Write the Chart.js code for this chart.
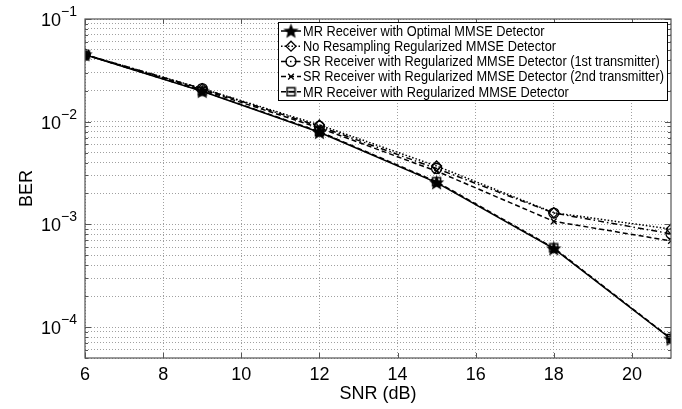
<!DOCTYPE html>
<html>
<head>
<meta charset="utf-8">
<script src="https://cdn.jsdelivr.net/npm/chart.js@4/dist/chart.umd.min.js"></script>
<style>
  html, body { margin: 0; padding: 0; background: #fff; }
  #wrap { width: 682px; height: 409px; }
</style>
</head>
<body>
<div id="wrap"><canvas id="berChart" width="682" height="409"></canvas></div>
<script>
// data
const snr = [6, 9, 12, 15, 18, 21];
const berMrOptimal = [0.045, 0.0198, 0.0079, 0.00255, 0.00058, 0.0000766];
const berNoResampling = [0.045, 0.021, 0.0093, 0.0037, 0.0013, 0.0009];
const berSr1 = [0.045, 0.021, 0.009, 0.0035, 0.00129, 0.00081];
const berSr2 = [0.045, 0.0205, 0.0087, 0.0033, 0.00107, 0.00069];
const berMrRegularized = [0.045, 0.0199, 0.008, 0.0026, 0.00059, 0.0000775];

const seriesLabels = [
  'MR Receiver with Optimal MMSE Detector',
  'No Resampling Regularized MMSE Detector',
  'SR Receiver with Regularized MMSE Detector (1st transmitter)',
  'SR Receiver with Regularized MMSE Detector (2nd transmitter)',
  'MR Receiver with Regularized MMSE Detector'
];

const xTicks = [6, 8, 10, 12, 14, 16, 18, 20];
const yTickExponents = [-1, -2, -3, -4];
const yMin = 5e-5, yMax = 1e-1;

const FONT = 'Liberation Sans, Arial, sans-serif';

// custom markers
function starMarker() {
  const c = document.createElement('canvas');
  c.width = 17; c.height = 17;
  const g = c.getContext('2d');
  g.fillStyle = '#000';
  g.beginPath();
  for (let i = 0; i < 10; i++) {
    const r = i % 2 === 0 ? 8 : 3.5;
    const a = -Math.PI / 2 + i * Math.PI / 5;
    const px = 8.5 + r * Math.cos(a), py = 9 + r * Math.sin(a);
    if (i === 0) g.moveTo(px, py); else g.lineTo(px, py);
  }
  g.closePath();
  g.fill();
  return c;
}

function boxMinusMarker() {
  const c = document.createElement('canvas');
  c.width = 11; c.height = 11;
  const g = c.getContext('2d');
  g.strokeStyle = '#000';
  g.lineWidth = 1.5;
  g.strokeRect(1.5, 1.5, 8, 8);
  g.beginPath();
  g.moveTo(1.5, 5.5); g.lineTo(9.5, 5.5);
  g.stroke();
  return c;
}

const datasets = [
  { label: seriesLabels[0], data: berMrOptimal, borderDash: [], pointStyle: starMarker(), pointRadius: 6 },
  { label: seriesLabels[1], data: berNoResampling, borderDash: [1.5, 2], pointStyle: 'rectRot', pointRadius: 5 },
  { label: seriesLabels[2], data: berSr1, borderDash: [6, 3, 1.5, 3], pointStyle: 'circle', pointRadius: 5 },
  { label: seriesLabels[3], data: berSr2, borderDash: [5, 3], pointStyle: 'crossRot', pointRadius: 4 },
  { label: seriesLabels[4], data: berMrRegularized, borderDash: [5, 3], pointStyle: boxMinusMarker(), pointRadius: 5 }
].map(d => Object.assign(d, {
  borderColor: '#000',
  borderWidth: 1.5,
  pointBorderColor: '#000',
  pointBackgroundColor: 'rgba(0,0,0,0)',
  pointBorderWidth: 1.3,
  fill: false,
  tension: 0
}));

// frame + inward tick marks (matlab style)
const framePlugin = {
  id: 'frame',
  afterDatasetsDraw(chart) {
    const { ctx, chartArea: a, scales } = chart;
    ctx.save();
    ctx.strokeStyle = '#555';
    ctx.lineWidth = 1.2;
    ctx.strokeRect(a.left, a.top, a.right - a.left, a.bottom - a.top);
    ctx.lineWidth = 1;
    ctx.beginPath();
    scales.x.ticks.forEach(t => {
      const x = Math.round(scales.x.getPixelForValue(t.value)) + 0.5;
      ctx.moveTo(x, a.bottom); ctx.lineTo(x, a.bottom - 5);
      ctx.moveTo(x, a.top); ctx.lineTo(x, a.top + 5);
    });
    scales.y.ticks.forEach(t => {
      const y = Math.round(scales.y.getPixelForValue(t.value)) + 0.5;
      const len = t.major ? 6 : 3;
      ctx.moveTo(a.left, y); ctx.lineTo(a.left + len, y);
      ctx.moveTo(a.right, y); ctx.lineTo(a.right - len, y);
    });
    ctx.stroke();
    ctx.restore();
  }
};

// y labels as 10^n with a raised exponent
const yLabelPlugin = {
  id: 'yLabels',
  afterDraw(chart) {
    const { ctx, scales } = chart;
    ctx.save();
    ctx.fillStyle = '#000';
    ctx.textBaseline = 'middle';
    yTickExponents.forEach(e => {
      const y = scales.y.getPixelForValue(Math.pow(10, e));
      const sup = '\u2212' + Math.abs(e);
      ctx.font = '14px ' + FONT;
      const supW = ctx.measureText(sup).width;
      const x0 = 77 - supW;
      ctx.textAlign = 'left';
      ctx.fillText(sup, x0, y - 7);
      ctx.font = '18px ' + FONT;
      ctx.textAlign = 'right';
      ctx.fillText('10', x0, y + 2);
    });
    ctx.restore();
  }
};

// legend box inside the plot, top right
const legendPlugin = {
  id: 'boxLegend',
  afterDraw(chart) {
    const { ctx } = chart;
    const left = 278, right = 667, top = 22, bottom = 100;
    const textX = 303, textRight = 664;
    ctx.save();
    ctx.fillStyle = '#fff';
    ctx.fillRect(left, top, right - left, bottom - top);
    ctx.strokeStyle = '#000';
    ctx.lineWidth = 1;
    ctx.strokeRect(left + 0.5, top + 0.5, right - left, bottom - top);
    ctx.font = '14px ' + FONT;
    const squeeze = (textRight - textX) / ctx.measureText(seriesLabels[3]).width;
    chart.data.datasets.forEach((ds, i) => {
      const y = 31 + i * 15.2;
      ctx.strokeStyle = '#000';
      ctx.lineWidth = 1.5;
      ctx.setLineDash(ds.borderDash);
      ctx.beginPath();
      ctx.moveTo(281, y); ctx.lineTo(301, y);
      ctx.stroke();
      ctx.setLineDash([]);
      ctx.lineWidth = ds.pointBorderWidth;
      ctx.fillStyle = 'rgba(0,0,0,0)';
      Chart.helpers.drawPoint(ctx, {
        pointStyle: ds.pointStyle, radius: ds.pointRadius, rotation: 0, borderWidth: ds.pointBorderWidth
      }, 291, y);
      ctx.fillStyle = '#000';
      ctx.font = '14px ' + FONT;
      ctx.textAlign = 'left';
      ctx.textBaseline = 'middle';
      ctx.save();
      ctx.translate(textX, y + 1);
      ctx.scale(squeeze, 1);
      ctx.fillText(ds.label, 0, 0);
      ctx.restore();
    });
    ctx.restore();
  }
};

const ctx = document.getElementById('berChart').getContext('2d');
const berChart = new Chart(ctx, {
  type: 'line',
  data: {
    labels: snr,
    datasets: datasets.map(d => Object.assign(d, { data: d.data.map((v, i) => ({ x: snr[i], y: v })) }))
  },
  options: {
    responsive: false,
    animation: false,
    layout: { padding: { top: 19, right: 11, left: 0, bottom: 0 } },
    plugins: { legend: { display: false }, tooltip: { enabled: false } },
    scales: {
      x: {
        type: 'linear',
        min: 6,
        max: 21,
        afterBuildTicks: axis => { axis.ticks = xTicks.map(v => ({ value: v })); },
        afterFit: axis => { axis.height = 51; },
        grid: { color: '#a0a0a0', lineWidth: 1, drawTicks: false },
        border: { display: false, dash: [1, 2] },
        ticks: { color: '#000', font: { family: FONT, size: 18 }, padding: 6, maxRotation: 0 },
        title: { display: true, text: 'SNR (dB)', color: '#000', font: { family: FONT, size: 18 }, padding: { top: 0, bottom: 4 } }
      },
      y: {
        type: 'logarithmic',
        min: yMin,
        max: yMax,
        afterBuildTicks: axis => {
          const t = [];
          for (let e = -5; e <= -1; e++) {
            for (let m = 1; m <= 9; m++) {
              const v = m * Math.pow(10, e);
              if (v >= yMin * 0.999 && v <= yMax * 1.001) t.push({ value: v, major: m === 1 });
            }
          }
          axis.ticks = t;
        },
        afterFit: axis => { axis.width = 85; },
        grid: { color: '#a0a0a0', lineWidth: 1, drawTicks: false },
        border: { display: false, dash: [1, 2] },
        ticks: { display: false },
        title: { display: true, text: 'BER', color: '#000', font: { family: FONT, size: 18 }, padding: { top: 16, bottom: 0 } }
      }
    }
  },
  plugins: [framePlugin, yLabelPlugin, legendPlugin]
});
</script>
</body>
</html>
